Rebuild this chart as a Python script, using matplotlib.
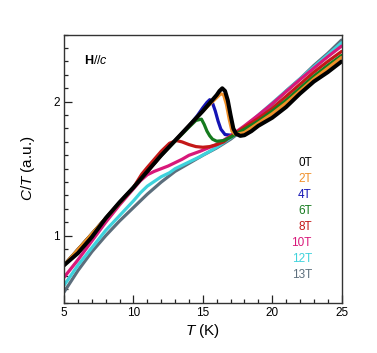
import matplotlib
matplotlib.use("Agg")
import matplotlib.pyplot as plt
from matplotlib.ticker import MultipleLocator

plt.rcParams["font.family"] = ["Liberation Sans", "DejaVu Sans"]
plt.rcParams["mathtext.fontset"] = "custom"
plt.rcParams["mathtext.rm"] = "Liberation Sans"
plt.rcParams["mathtext.it"] = "Liberation Sans:italic"
plt.rcParams["mathtext.bf"] = "Liberation Sans:bold"

# C/T vs T curves, one per field
t_0T = [5, 6, 7, 8, 9, 10, 11, 12, 13, 14, 15, 15.5, 16, 16.2, 16.4, 16.6, 16.8, 17.0, 17.2, 17.4, 17.7, 18.0, 18.5, 19, 20, 21, 22, 23, 24, 25]
c_0T = [0.78, 0.87, 0.99, 1.13, 1.25, 1.36, 1.48, 1.60, 1.71, 1.82, 1.93, 1.99, 2.05, 2.08, 2.10, 2.08, 2.01, 1.90, 1.80, 1.76, 1.745, 1.75, 1.78, 1.82, 1.88, 1.96, 2.06, 2.15, 2.22, 2.30]

t_2T = [5, 8, 10, 12, 14, 15, 15.5, 16, 16.3, 16.5, 16.7, 16.9, 17.1, 17.3, 17.6, 18, 19, 20, 21, 22, 23, 24, 25]
c_2T = [0.78, 1.13, 1.36, 1.60, 1.82, 1.93, 1.98, 2.03, 2.06, 2.05, 1.98, 1.87, 1.78, 1.76, 1.76, 1.77, 1.84, 1.91, 1.99, 2.08, 2.17, 2.25, 2.33]

t_4T = [5, 8, 10, 12, 14, 14.6, 15.0, 15.3, 15.5, 15.7, 15.9, 16.1, 16.3, 16.6, 17.0, 17.5, 18, 19, 20, 21, 22, 23, 24, 25]
c_4T = [0.78, 1.13, 1.36, 1.60, 1.82, 1.895, 1.955, 1.995, 2.015, 1.99, 1.93, 1.855, 1.795, 1.755, 1.75, 1.76, 1.785, 1.845, 1.92, 2.00, 2.09, 2.18, 2.26, 2.335]

t_6T = [5, 8, 10, 12, 14, 14.5, 14.9, 15.1, 15.3, 15.5, 15.7, 16.0, 16.5, 17.0, 17.5, 18, 19, 20, 21, 22, 23, 24, 25]
c_6T = [0.78, 1.13, 1.36, 1.60, 1.81, 1.86, 1.87, 1.83, 1.78, 1.745, 1.72, 1.705, 1.71, 1.735, 1.765, 1.795, 1.855, 1.93, 2.01, 2.10, 2.19, 2.27, 2.345]

t_8T = [5, 8, 10, 10.6, 11, 11.5, 12, 12.6, 13.1, 13.5, 14, 14.5, 15, 15.5, 16, 16.5, 17, 18, 19, 20, 21, 22, 23, 24, 25]
c_8T = [0.78, 1.13, 1.36, 1.46, 1.51, 1.57, 1.63, 1.69, 1.71, 1.70, 1.68, 1.665, 1.66, 1.665, 1.68, 1.70, 1.74, 1.81, 1.875, 1.95, 2.04, 2.13, 2.22, 2.30, 2.375]

t_10T = [5, 6, 7, 8, 9, 10, 10.5, 11, 11.5, 12, 12.5, 13, 13.5, 14, 14.8, 15.5, 16, 17, 18, 19, 20, 21, 22, 23, 24, 25]
c_10T = [0.69, 0.82, 0.96, 1.10, 1.23, 1.35, 1.41, 1.455, 1.48, 1.50, 1.52, 1.545, 1.57, 1.60, 1.63, 1.66, 1.68, 1.745, 1.82, 1.90, 1.985, 2.075, 2.165, 2.25, 2.335, 2.415]

t_12T = [5, 6, 7, 8, 9, 10, 10.5, 11, 12, 12.6, 13, 14, 14.8, 15.5, 16, 17, 18, 19, 20, 21, 22, 23, 24, 25]
c_12T = [0.63, 0.78, 0.91, 1.04, 1.15, 1.26, 1.32, 1.37, 1.44, 1.47, 1.50, 1.55, 1.59, 1.63, 1.66, 1.73, 1.81, 1.90, 1.99, 2.08, 2.17, 2.26, 2.35, 2.44]

t_13T = [5, 6, 7, 8, 9, 10, 11, 12, 13, 14, 15, 16, 17, 18, 19, 20, 21, 22, 23, 24, 25]
c_13T = [0.58, 0.74, 0.88, 1.00, 1.11, 1.21, 1.31, 1.40, 1.48, 1.54, 1.60, 1.655, 1.72, 1.80, 1.89, 1.98, 2.08, 2.17, 2.27, 2.36, 2.46]

labels = ["0T", "2T", "4T", "6T", "8T", "10T", "12T", "13T"]
colors = ["#000000", "#f0902a", "#1414b4", "#157a1e", "#c41818", "#d8187a", "#3ed2dc", "#5c6e7c"]
series = [(t_0T, c_0T), (t_2T, c_2T), (t_4T, c_4T), (t_6T, c_6T),
          (t_8T, c_8T), (t_10T, c_10T), (t_12T, c_12T), (t_13T, c_13T)]

fig = plt.figure(figsize=(3.77, 3.53), dpi=100)
ax = fig.add_axes([0.170, 0.1425, 0.736, 0.7592])

# high field first, zero field on top; 4T drawn last so its peak shows over the black line
order = [7, 6, 5, 4, 3, 1, 0, 2]
for i in order:
    t, c = series[i]
    lw = 2.9 if i == 0 else 2.3
    ax.plot(t, c, color=colors[i], lw=lw, solid_capstyle="round", solid_joinstyle="round",
            zorder=2 if i != 2 else 1.9)

ax.set_xlim(5, 25)
ax.set_ylim(0.5, 2.5)
ax.xaxis.set_major_locator(MultipleLocator(5))
ax.xaxis.set_minor_locator(MultipleLocator(1))
ax.yaxis.set_major_locator(MultipleLocator(1))
ax.yaxis.set_minor_locator(MultipleLocator(0.1))
ax.tick_params(which="both", direction="in", top=False, right=False, labelsize=8.5, width=0.9, color="#222222")
ax.tick_params(which="major", length=5.5, pad=3)
ax.tick_params(which="minor", length=2.8)
for s in ax.spines.values():
    s.set_linewidth(1.0)
    s.set_color("#333333")

ax.set_xlabel(r"$T$ (K)", fontsize=11, labelpad=2)
ax.set_ylabel(r"$C/T$ (a.u.)", fontsize=11, labelpad=12)

ax.text(0.07, 0.905, r"$\mathbf{H}\mathit{//c}$", transform=ax.transAxes, fontsize=9, va="center")

for i, lab in enumerate(labels):
    ax.text(0.893, 0.520 - i * 0.0595, lab, transform=ax.transAxes, ha="right", va="center",
            fontsize=8.5, color=colors[i])

fig.savefig("out.png", dpi=100)
